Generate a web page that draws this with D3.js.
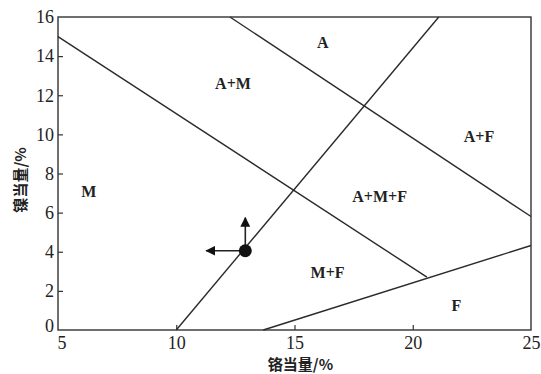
<!DOCTYPE html>
<html lang="zh-CN">
<head>
<meta charset="UTF-8">
<script src="https://d3js.org/d3.v7.min.js"></script>
<style>
  body { margin: 0; background: #fff; }
  svg text { fill: #222; }
</style>
</head>
<body>
<div id="chart"></div>
<script>
// 铬当量 (x) / 镍当量 (y)
var xTicks = [5, 10, 15, 20, 25];
var yTicks = [0, 2, 4, 6, 8, 10, 12, 14, 16];

// 相区分界线，每条两个端点 [Cr, Ni]
var boundaries = [
  [[5, 15], [20.6, 2.7]],      // M | A+M
  [[12.27, 16], [25, 5.8]],    // A | A+M / A+F
  [[10, 0], [21.1, 16]],       // Ms 线
  [[13.68, 0], [25, 4.32]]     // F
];

var regions = [
  { name: "A", x: 16.2, y: 14.7 },
  { name: "A+M", x: 12.4, y: 12.6 },
  { name: "A+F", x: 22.8, y: 9.9 },
  { name: "M", x: 6.3, y: 7.1 },
  { name: "A+M+F", x: 18.6, y: 6.8 },
  { name: "M+F", x: 16.4, y: 2.95 },
  { name: "F", x: 21.85, y: 1.25 }
];

var point = [12.92, 4.05];

var width = 541, height = 374;
var margin = { left: 58, right: 10, top: 17, bottom: 44 };

var svg = d3.select("#chart").append("svg")
  .attr("width", width)
  .attr("height", height);

var x = d3.scaleLinear().domain([5, 25]).range([margin.left, width - margin.right]);
var y = d3.scaleLinear().domain([0, 16]).range([height - margin.bottom, margin.top]);

var serif = "'Liberation Serif', 'DejaVu Serif', serif";

// 边框
svg.append("rect")
  .attr("x", x(5)).attr("y", y(16))
  .attr("width", x(25) - x(5)).attr("height", y(0) - y(16))
  .attr("fill", "none").attr("stroke", "#333").attr("stroke-width", 1.4);

// 坐标轴（刻度朝内）
var xAxis = svg.append("g")
  .attr("transform", "translate(0," + y(0) + ")")
  .call(d3.axisBottom(x).tickValues(xTicks).tickSize(-5).tickPadding(6));
var yAxis = svg.append("g")
  .attr("transform", "translate(" + x(5) + ",0)")
  .call(d3.axisLeft(y).tickValues(yTicks).tickSize(-5).tickPadding(4));

[xAxis, yAxis].forEach(function(g) {
  g.select(".domain").remove();
  g.selectAll("line").attr("stroke", "#333").attr("stroke-width", 1.2);
  g.selectAll("text")
    .attr("font-family", serif)
    .attr("font-size", 18)
    .attr("fill", "#222");
});
// 去掉端点处多余的刻度
xAxis.selectAll(".tick").filter(function(d) { return d === 5 || d === 25; }).select("line").remove();
yAxis.selectAll(".tick").filter(function(d) { return d === 0 || d === 16; }).select("line").remove();
// "0" 和 "5" 在角落错开
yAxis.selectAll(".tick").filter(function(d) { return d === 0; }).select("text").attr("dy", "0.1em");
xAxis.selectAll(".tick").filter(function(d) { return d === 5; }).select("text").attr("dx", "0.2em");

// 分界线
svg.append("g").selectAll("line")
  .data(boundaries)
  .join("line")
  .attr("x1", function(d) { return x(d[0][0]); })
  .attr("y1", function(d) { return y(d[0][1]); })
  .attr("x2", function(d) { return x(d[1][0]); })
  .attr("y2", function(d) { return y(d[1][1]); })
  .attr("stroke", "#2a2a2a")
  .attr("stroke-width", 1.4);

// 相区标注
svg.append("g").selectAll("text")
  .data(regions)
  .join("text")
  .attr("x", function(d) { return x(d.x); })
  .attr("y", function(d) { return y(d.y); })
  .attr("text-anchor", "middle")
  .attr("dominant-baseline", "central")
  .attr("font-family", serif)
  .attr("font-weight", "bold")
  .attr("font-size", 16)
  .text(function(d) { return d.name; });

// 箭头
var defs = svg.append("defs");
defs.append("marker")
  .attr("id", "arrow")
  .attr("viewBox", "0 0 10 10")
  .attr("refX", 9).attr("refY", 5)
  .attr("markerWidth", 10).attr("markerHeight", 10)
  .attr("markerUnits", "userSpaceOnUse")
  .attr("orient", "auto")
  .append("path")
  .attr("d", "M0,0 L10,5 L0,10 Z")
  .attr("fill", "#111");

var px = x(point[0]), py = y(point[1]);
svg.append("line")
  .attr("x1", px).attr("y1", py).attr("x2", px - 39).attr("y2", py)
  .attr("stroke", "#222").attr("stroke-width", 1.6)
  .attr("marker-end", "url(#arrow)");
svg.append("line")
  .attr("x1", px).attr("y1", py).attr("x2", px).attr("y2", py - 33)
  .attr("stroke", "#222").attr("stroke-width", 1.6)
  .attr("marker-end", "url(#arrow)");
svg.append("circle")
  .attr("cx", px).attr("cy", py).attr("r", 6.5)
  .attr("fill", "#111");

// 轴标题
svg.append("text")
  .attr("x", (x(5) + x(25)) / 2 + 6)
  .attr("y", 363)
  .attr("text-anchor", "middle")
  .attr("dominant-baseline", "central")
  .attr("font-family", "'Noto Sans CJK SC', " + serif)
  .attr("font-weight", "bold")
  .attr("font-size", 15)
  .text("铬当量/%");

svg.append("text")
  .attr("transform", "translate(19," + 180 + ") rotate(-90)")
  .attr("text-anchor", "middle")
  .attr("dominant-baseline", "central")
  .attr("font-family", "'Noto Sans CJK SC', " + serif)
  .attr("font-weight", "bold")
  .attr("font-size", 15)
  .text("镍当量/%");
</script>
</body>
</html>
